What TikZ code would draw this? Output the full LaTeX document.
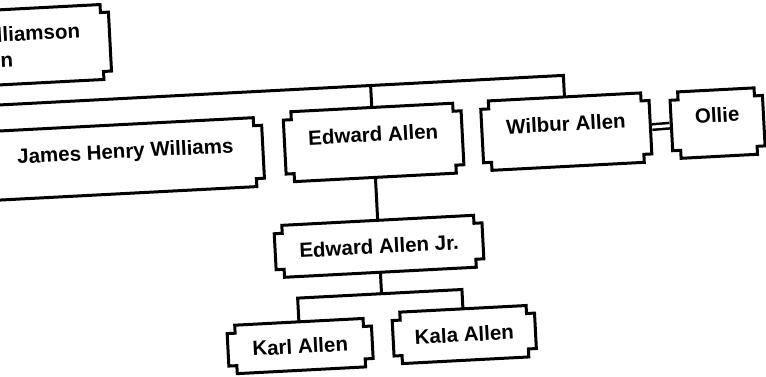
\documentclass[tikz,border=0pt]{standalone}
\usepackage{fontspec}
\setmainfont{Liberation Sans}
\def\nt{8}
\def\famcard[#1](#2)(#3,#4)(#5,#6)#7{%
  \node[card,#1,minimum width=#5,minimum height=#6] (#2) at (#3,#4) {#7};
  \draw[cardline] ({#3-#5/2+\nt},{#4-#6/2}) -- ++({#5-2*\nt},0) -- ++(0,\nt) -- ++(\nt,0)
    -- ++(0,{#6-2*\nt}) -- ++(-\nt,0) -- ++(0,\nt) -- ++({2*\nt-#5},0) -- ++(0,-\nt)
    -- ++(-\nt,0) -- ++(0,{2*\nt-#6}) -- ++(\nt,0) -- cycle;}

\begin{document}
\begin{tikzpicture}[x=1pt, y=-1pt,
  card/.style={inner sep=0pt, font=\fontsize{20.5}{25.3}\selectfont\bfseries},
  hightext/.style={text height=15pt, text depth=16.3pt},
  midtext/.style={text height=15pt, text depth=0.3pt},
  cardline/.style={line width=3pt},
  link/.style={line width=3pt},
  wed/.style={line width=2.5pt, double, double distance=3pt, shorten <=1.5pt, shorten >=1.5pt}]
	%%%%% START %%%%%
	\useasboundingbox (0,0) rectangle (766,377);
	\clip (0,0) rectangle (766,377);
	
	\begin{scope}[rotate around={3:(383,188)}, transform shape]
	
	\famcard[align=left](williamson)(34.5,27.5)(167,75){Williamson\\Ann}
	
	\famcard[hightext](james)(127.6,145.5)(275,69){James Henry Williams}
	\famcard[hightext](edward)(376,142)(178,70){Edward Allen}
	\famcard[hightext](wilbur)(569,141.3)(168.5,69.5){Wilbur Allen}
	\famcard[hightext](ollie)(720.5,140.7)(92.5,66.5){Ollie}
	
	\famcard[midtext](jr)(376,246)(208,52){Edward Allen Jr.}
	\famcard[midtext](karl)(292,341.5)(144.5,48.5){Karl Allen}
	\famcard[midtext](kala)(456.5,338.6)(142.5,51.5){Kala Allen}
	
	\coordinate (sib-w) at (-40,85);
	\coordinate (sib-ed) at (376,85);
	\coordinate (sib-wil) at (569,85);
	\draw[link] (sib-w) -- (sib-wil) -- (wilbur.north);
	\draw[link] (sib-ed) -- (edward.north);
	
	\draw[wed] (wilbur.east) -- (ollie.west);
	
	\draw[link] (edward.south) -- (jr.north);
	
	\coordinate (kids-w) at (292,293.5);
	\coordinate (kids-m) at (376,293.5);
	\coordinate (kids-e) at (456.5,293.5);
	\draw[link] (jr.south) -- (kids-m);
	\draw[link] (karl.north) -- (kids-w) -- (kids-e) -- (kala.north);
	
	\end{scope}
	%%%%% END %%%%%
\end{tikzpicture}
\end{document}
